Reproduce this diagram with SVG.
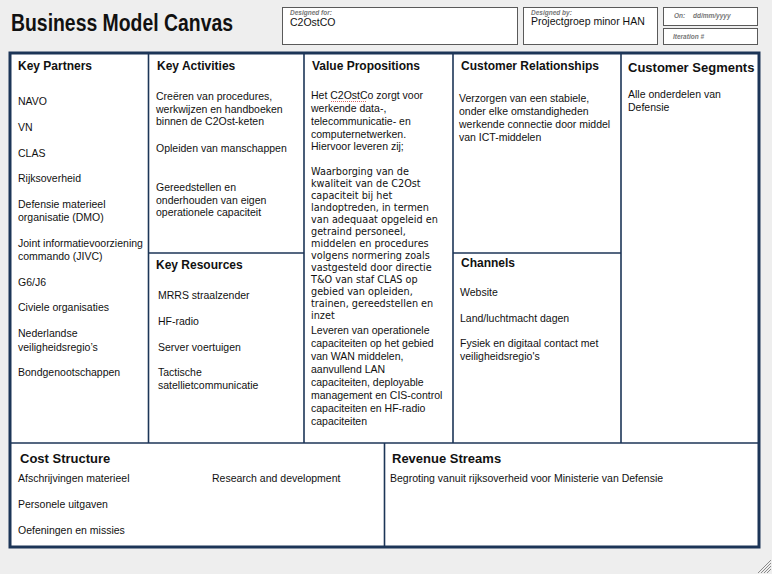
<svg xmlns="http://www.w3.org/2000/svg" width="772" height="574" viewBox="0 0 772 574">
<style>
.bg{fill:#eeeeee}
.cell{fill:#ffffff}
.frame{fill:none;stroke:#1c3557;stroke-width:3}
.div{stroke:#1c3557;stroke-width:1.6;fill:none}
.hbox{fill:#ffffff;stroke:#5a5a5a;stroke-width:1}
.t{font-family:"Liberation Sans",Arial,sans-serif;font-size:10.5px;fill:#111111}
.v{font-family:"DejaVu Sans",Verdana,sans-serif;font-size:9.7px;fill:#111111}
.h{font-family:"Liberation Sans",Arial,sans-serif;font-size:12px;font-weight:bold;fill:#111111}
.h13{font-family:"Liberation Sans",Arial,sans-serif;font-size:13px;font-weight:bold;fill:#111111}
.small{font-family:"Liberation Sans",Arial,sans-serif;font-size:6.5px;font-style:italic;font-weight:bold;fill:#777777}
.hatch{stroke:#8a8a8a;stroke-width:1}
</style>
<rect class="bg" x="0" y="0" width="772" height="574"/>

<g id="header">
  <text x="11" y="31" font-family="Liberation Sans,Arial,sans-serif" font-size="23" font-weight="bold" fill="#111111" textLength="222" lengthAdjust="spacingAndGlyphs">Business Model Canvas</text>
  <g id="designed-for">
    <rect class="hbox" x="282.5" y="7.5" width="235" height="37"/>
    <text class="small" x="290" y="15">Designed for:</text>
    <text class="t" x="290" y="26" font-size="11">C2OstCO</text>
  </g>
  <g id="designed-by">
    <rect class="hbox" x="523.5" y="7.5" width="134" height="37"/>
    <text class="small" x="531" y="15">Designed by:</text>
    <text class="t" x="531" y="25" font-size="11">Projectgroep minor HAN</text>
  </g>
  <g id="on">
    <rect class="hbox" x="663.5" y="7.5" width="94" height="18"/>
    <text class="small" x="674" y="18" font-weight="normal">On:</text>
    <text class="small" x="693" y="18" font-weight="normal">dd/mm/yyyy</text>
  </g>
  <g id="iteration">
    <rect class="hbox" x="663.5" y="28.5" width="94" height="16"/>
    <text class="small" x="673" y="39" font-weight="normal">Iteration #</text>
  </g>
</g>

<rect class="cell" x="10" y="53" width="749" height="494"/>

<g id="connectors">
  <line class="div" x1="148.5" y1="53" x2="148.5" y2="443"/>
  <line class="div" x1="304" y1="53" x2="304" y2="443"/>
  <line class="div" x1="453" y1="53" x2="453" y2="443"/>
  <line class="div" x1="621" y1="53" x2="621" y2="443"/>
  <line class="div" x1="148.5" y1="253" x2="304" y2="253"/>
  <line class="div" x1="453" y1="253" x2="621" y2="253"/>
  <line class="div" x1="10" y1="443" x2="759" y2="443"/>
  <line class="div" x1="384.5" y1="443" x2="384.5" y2="547"/>
  <rect class="frame" x="10" y="53" width="749" height="494"/>
</g>

<g id="key-partners">
  <text class="h" x="18" y="70">Key Partners</text>
  <text class="t" x="18" y="105">NAVO</text>
  <text class="t" x="18" y="131">VN</text>
  <text class="t" x="18" y="157">CLAS</text>
  <text class="t" x="18" y="182">Rijksoverheid</text>
  <text class="t" x="18" y="208">Defensie materieel</text>
  <text class="t" x="18" y="221">organisatie (DMO)</text>
  <text class="t" x="18" y="247">Joint informatievoorziening</text>
  <text class="t" x="18" y="260">commando (JIVC)</text>
  <text class="t" x="18" y="286">G6/J6</text>
  <text class="t" x="18" y="311">Civiele organisaties</text>
  <text class="t" x="18" y="337">Nederlandse</text>
  <text class="t" x="18" y="351">veiligheidsregio’s</text>
  <text class="t" x="18" y="376">Bondgenootschappen</text>
</g>

<g id="key-activities">
  <text class="h" x="157" y="70">Key Activities</text>
  <text class="t" x="156" y="100">Creëren van procedures,</text>
  <text class="t" x="156" y="113">werkwijzen en handboeken</text>
  <text class="t" x="156" y="125">binnen de C2Ost-keten</text>
  <text class="t" x="156" y="152">Opleiden van manschappen</text>
  <text class="t" x="156" y="191">Gereedstellen en</text>
  <text class="t" x="156" y="204">onderhouden van eigen</text>
  <text class="t" x="156" y="216">operationele capaciteit</text>
</g>

<g id="key-resources">
  <text class="h" x="156" y="269">Key Resources</text>
  <text class="t" x="158" y="299">MRRS straalzender</text>
  <text class="t" x="158" y="325">HF-radio</text>
  <text class="t" x="158" y="351">Server voertuigen</text>
  <text class="t" x="158" y="376">Tactische</text>
  <text class="t" x="158" y="389">satellietcommunicatie</text>
</g>

<g id="value-propositions">
  <text class="h" x="312" y="70">Value Propositions</text>
  <text class="t" x="311" y="99">Het C2OstCo zorgt voor</text>
  <path d="M331 101.5 h36" stroke="#d04040" stroke-width="0.8" stroke-dasharray="1 1" fill="none"/>
  <text class="t" x="311" y="112">werkende data-,</text>
  <text class="t" x="311" y="125">telecommunicatie- en</text>
  <text class="t" x="311" y="138">computernetwerken.</text>
  <text class="t" x="311" y="150">Hiervoor leveren zij;</text>
  <text class="v" x="311" y="175">Waarborging van de</text>
  <text class="v" x="311" y="187">kwaliteit van de C2Ost</text>
  <text class="v" x="311" y="199">capaciteit bij het</text>
  <text class="v" x="311" y="211">landoptreden, in termen</text>
  <text class="v" x="311" y="223">van adequaat opgeleid en</text>
  <text class="v" x="311" y="235">getraind personeel,</text>
  <text class="v" x="311" y="247">middelen en procedures</text>
  <text class="v" x="311" y="259">volgens normering zoals</text>
  <text class="v" x="311" y="271">vastgesteld door directie</text>
  <text class="v" x="311" y="283">T&amp;O van staf CLAS op</text>
  <text class="v" x="311" y="295">gebied van opleiden,</text>
  <text class="v" x="311" y="307">trainen, gereedstellen en</text>
  <text class="v" x="311" y="319">inzet</text>
  <text class="t" x="311" y="334">Leveren van operationele</text>
  <text class="t" x="311" y="347">capaciteiten op het gebied</text>
  <text class="t" x="311" y="360">van WAN middelen,</text>
  <text class="t" x="311" y="373">aanvullend LAN</text>
  <text class="t" x="311" y="386">capaciteiten, deployable</text>
  <text class="t" x="311" y="399">management en CIS-control</text>
  <text class="t" x="311" y="412">capaciteiten en HF-radio</text>
  <text class="t" x="311" y="425">capaciteiten</text>
</g>

<g id="customer-relationships">
  <text class="h" x="461" y="70">Customer Relationships</text>
  <text class="t" x="459" y="102">Verzorgen van een stabiele,</text>
  <text class="t" x="459" y="115">onder elke omstandigheden</text>
  <text class="t" x="459" y="128">werkende connectie door middel</text>
  <text class="t" x="459" y="141">van ICT-middelen</text>
</g>

<g id="channels">
  <text class="h" x="461" y="267">Channels</text>
  <text class="t" x="460" y="296">Website</text>
  <text class="t" x="460" y="322">Land/luchtmacht dagen</text>
  <text class="t" x="460" y="347">Fysiek en digitaal contact met</text>
  <text class="t" x="460" y="360">veiligheidsregio's</text>
</g>

<g id="customer-segments">
  <text class="h13" x="628" y="72">Customer Segments</text>
  <text class="t" x="628" y="98">Alle onderdelen van</text>
  <text class="t" x="628" y="111">Defensie</text>
</g>

<g id="cost-structure">
  <text class="h13" x="20" y="463">Cost Structure</text>
  <text class="t" x="18" y="482">Afschrijvingen materieel</text>
  <text class="t" x="212" y="482">Research and development</text>
  <text class="t" x="18" y="508">Personele uitgaven</text>
  <text class="t" x="18" y="534">Oefeningen en missies</text>
</g>

<g id="revenue-streams">
  <text class="h13" x="392" y="463">Revenue Streams</text>
  <text class="t" x="390" y="482">Begroting vanuit rijksoverheid voor Ministerie van Defensie</text>
</g>

<g id="resize-handle">
  <line class="hatch" x1="758" y1="573" x2="771" y2="560"/>
  <line class="hatch" x1="761" y1="573" x2="771" y2="563"/>
  <line class="hatch" x1="764" y1="573" x2="771" y2="566"/>
  <line class="hatch" x1="767" y1="573" x2="771" y2="569"/>
</g>
</svg>
